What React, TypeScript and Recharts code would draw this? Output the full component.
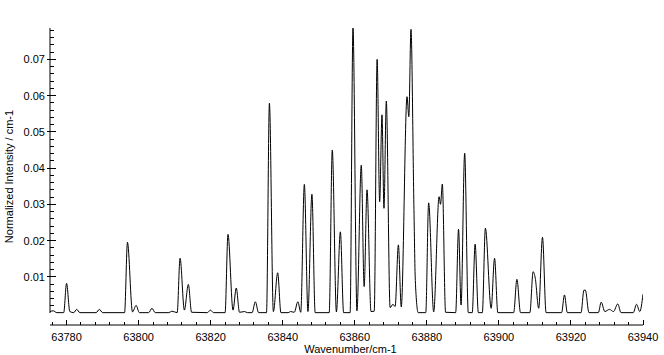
import React from 'react';
import { LineChart, Line, XAxis, YAxis, ReferenceLine } from 'recharts';

// spectrum, [wavenumber, intensity]
const bandLow: [number, number][] = [
  [63775.4, 0.0004], [63776.3, 0.0006], [63777.3, 0.0001], [63779.2, 0.0001],
  [63780.0, 0.0082], [63780.9, 0.0004], [63782.0, 0.0001], [63782.8, 0.001],
  [63783.7, 0.0001], [63788.2, 0.0001], [63789.1, 0.001], [63790.0, 0.0001],
  [63796.1, 0.0001], [63796.9, 0.0195], [63798.3, 0.0003], [63799.3, 0.0021],
  [63800.2, 0.0001], [63802.8, 0.0001], [63803.7, 0.0013], [63804.6, 0.0001],
  [63808.4, 0.0001], [63809.2, 0.0005], [63810.7, 0.0001], [63811.5, 0.0151],
  [63812.7, 0.0008], [63813.8, 0.0079], [63814.7, 0.0002], [63819.1, 0.0001],
  [63819.9, 0.0008], [63820.8, 0.0001], [63824.0, 0.0001], [63824.8, 0.0217],
  [63826.2, 0.0008], [63827.1, 0.0069], [63828.0, 0.0002], [63829.4, 0.0004],
  [63830.2, 0.0001],
];

const bandMid: [number, number][] = [
  [63831.5, 0.0001], [63832.4, 0.0031], [63833.3, 0.0001], [63835.5, 0.0001],
  [63836.3, 0.0579], [63837.4, 0.0004], [63838.6, 0.0111], [63839.5, 0.0001],
  [63841.5, 0.0001], [63842.2, 0.0004], [63843.2, 0.0002], [63844.2, 0.0031],
  [63845.0, 0.0002], [63846.0, 0.0355], [63847.0, 0.0004], [63848.1, 0.0328],
  [63849.0, 0.0001], [63852.9, 0.0001], [63853.75, 0.045], [63854.9, 0.0003],
  [63856.0, 0.0224], [63856.9, 0.0001], [63858.7, 0.0001],
];

const bandCore: [number, number][] = [
  [63859.5, 0.0787], [63860.6, 0.0006], [63861.8, 0.0408], [63862.6, 0.0073],
  [63863.4, 0.034], [63864.5, 0.0004], [63865.4, 0.0005], [63866.2, 0.07],
  [63866.9, 0.0307], [63867.55, 0.0547], [63868.1, 0.0289], [63868.75, 0.0585],
  [63869.8, 0.0015], [63870.6, 0.0024], [63871.2, 0.0018], [63872.1, 0.0188],
  [63872.9, 0.0017], [63874.5, 0.0597], [63875.0, 0.0542], [63875.6, 0.0783],
  [63876.4, 0.03], [63876.8, 0.009], [63877.6, 0.0001],
];

const bandHigh: [number, number][] = [
  [63879.7, 0.0001], [63880.5, 0.0304], [63881.9, 0.0003], [63883.4, 0.0321],
  [63883.8, 0.03], [63884.3, 0.0356], [63885.2, 0.0002], [63888.0, 0.0001],
  [63888.8, 0.0231], [63889.5, 0.0022], [63890.5, 0.0441], [63891.5, 0.0001],
  [63892.6, 0.0001], [63893.4, 0.019], [63894.3, 0.0001], [63895.4, 0.0001],
  [63896.25, 0.0234], [63897.85, 0.0013], [63898.8, 0.0151], [63899.7, 0.0001],
];

const bandTail: [number, number][] = [
  [63904.1, 0.0001], [63905.0, 0.0093], [63906.0, 0.0001], [63908.6, 0.0001],
  [63909.5, 0.0114], [63910.1, 0.0096], [63911.05, 0.0013], [63912.1, 0.0209],
  [63913.1, 0.0001], [63917.4, 0.0001], [63918.2, 0.005], [63919.0, 0.0001],
  [63922.8, 0.0001], [63923.6, 0.0063], [63924.0, 0.0063], [63925.0, 0.0001],
  [63927.6, 0.0001], [63928.4, 0.003], [63929.4, 0.0004], [63930.7, 0.001],
  [63931.8, 0.0004], [63933.0, 0.0025], [63933.9, 0.0001], [63937.3, 0.0001],
  [63938.2, 0.0024], [63939.1, 0.0004], [63940.0, 0.0052],
];

const xMajorTicks = [63780, 63800, 63820, 63840, 63860, 63880, 63900, 63920, 63940];
const xTicks = Array.from({ length: 42 }, (_, i) => 63776 + 4 * i);
const yTicks = Array.from({ length: 39 }, (_, i) => ((i + 1) * 2) / 1000);

const X_MIN = 63775.4;
const X_MAX = 63940;
const Y_MIN = -0.00331;
const Y_MAX = 0.07866;

const data = [...bandLow, ...bandMid, ...bandCore, ...bandHigh, ...bandTail].map(
  ([w, v]) => ({ w, v })
);

const font = '"Liberation Sans", Arial, sans-serif';

const XTick = (props: any) => {
  const { x, y, payload } = props;
  const major = xMajorTicks.includes(payload.value);
  return (
    <g>
      <line x1={x} x2={x} y1={y} y2={y - (major ? 5 : 3)} stroke="#000" shapeRendering="crispEdges" />
      {major && (
        <text x={x} y={y + 16} textAnchor="middle" fontSize={11} fontFamily={font} fill="#000">
          {payload.value}
        </text>
      )}
    </g>
  );
};

const YTick = (props: any) => {
  const { x, y, payload } = props;
  const major = Math.round(payload.value * 1000) % 10 === 0;
  return (
    <g>
      <line x1={major ? x - 3 : x} x2={x + (major ? 6 : 4)} y1={y} y2={y} stroke="#000" shapeRendering="crispEdges" />
      {major && (
        <text x={x - 5} y={y + 4} textAnchor="end" fontSize={11} fontFamily={font} fill="#000">
          {payload.value.toFixed(2)}
        </text>
      )}
    </g>
  );
};

const XLabel = (props: any) => {
  const { x, y, width, height } = props.viewBox;
  return (
    <text x={x + width / 2 + 4} y={y + height - 2} textAnchor="middle" fontSize={11} fontFamily={font} fill="#000">
      Wavenumber/cm-1
    </text>
  );
};

const YLabel = (props: any) => {
  const { y, height } = props.viewBox;
  const cy = y + height / 2;
  return (
    <text
      x={13}
      y={cy}
      transform={`rotate(-90 13 ${cy})`}
      textAnchor="middle"
      fontSize={11}
      fontFamily={font}
      fill="#000"
    >
      Normalized Intensity / cm-1
    </text>
  );
};

export default function App() {
  return (
    <div style={{ position: 'absolute', left: 0, top: 0, background: '#fff' }}>
      <LineChart width={664} height={355} data={data} margin={{ top: 28, right: 21, left: 0, bottom: 0 }}>
        <XAxis
          dataKey="w"
          type="number"
          domain={[X_MIN, X_MAX]}
          ticks={xTicks}
          interval={0}
          allowDataOverflow
          height={30}
          tickSize={0}
          tickMargin={0}
          tickLine={false}
          axisLine={{ stroke: '#000' }}
          tick={(p: any) => <XTick {...p} />}
          label={{ content: (p: any) => <XLabel {...p} /> }}
        />
        <YAxis
          type="number"
          domain={[Y_MIN, Y_MAX]}
          ticks={yTicks}
          interval={0}
          allowDataOverflow
          width={50}
          tickSize={0}
          tickMargin={0}
          tickLine={false}
          axisLine={false}
          tick={(p: any) => <YTick {...p} />}
          label={{ content: (p: any) => <YLabel {...p} /> }}
        />
        <ReferenceLine
          segment={[{ x: X_MIN, y: 0 }, { x: X_MIN, y: Y_MAX }]}
          stroke="#000"
          ifOverflow="visible"
        />
        <Line
          type="monotone"
          dataKey="v"
          stroke="#000"
          strokeWidth={1}
          dot={false}
          isAnimationActive={false}
        />
      </LineChart>
    </div>
  );
}
